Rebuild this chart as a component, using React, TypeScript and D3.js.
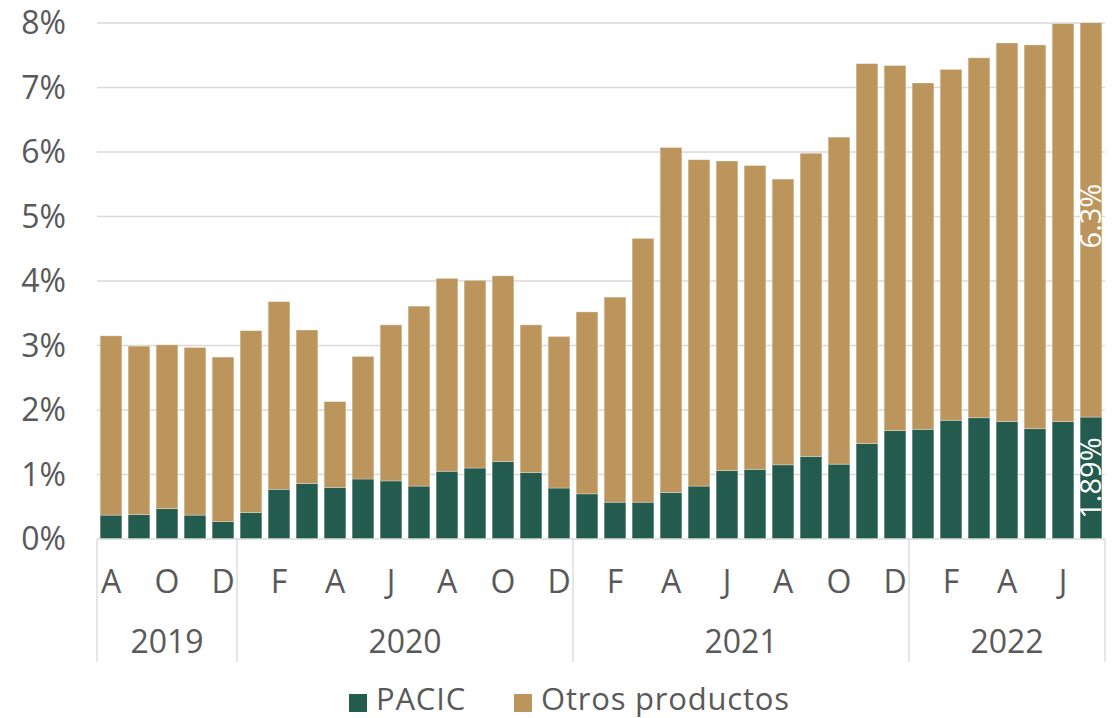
import React, { useEffect } from "react";
import * as d3 from "d3";

const years = ["2019", "2020", "2021", "2022"];
const monthsPerYear = [5, 12, 12, 7];
const monthLetters = [
  "A", "S", "O", "N", "D",
  "E", "F", "M", "A", "M", "J", "J", "A", "S", "O", "N", "D",
  "E", "F", "M", "A", "M", "J", "J", "A", "S", "O", "N", "D",
  "E", "F", "M", "A", "M", "J", "J",
];
const pacic = [
  0.37, 0.38, 0.47, 0.37, 0.27,
  0.41, 0.77, 0.86, 0.8, 0.93, 0.9, 0.82, 1.05, 1.1, 1.2, 1.03, 0.79,
  0.7, 0.57, 0.57, 0.72, 0.82, 1.06, 1.08, 1.15, 1.28, 1.16, 1.48, 1.68,
  1.7, 1.84, 1.88, 1.82, 1.71, 1.82, 1.89,
];
const otros = [
  2.78, 2.61, 2.54, 2.6, 2.55,
  2.82, 2.91, 2.38, 1.33, 1.9, 2.42, 2.79, 2.99, 2.91, 2.88, 2.29, 2.35,
  2.82, 3.18, 4.09, 5.35, 5.06, 4.8, 4.71, 4.43, 4.7, 5.07, 5.89, 5.66,
  5.37, 5.44, 5.58, 5.87, 5.95, 6.17, 6.3,
];
const yTicks = [0, 1, 2, 3, 4, 5, 6, 7, 8];
const seriesNames = ["PACIC", "Otros productos"];
const lastLabels = ["1.89%", "6.3%"];

const W = 1115;
const H = 718;
const L = 97;
const R = 1105;
const T = 23;
const B = 539;
const colors = ["#235B4E", "#BC955C"];
const textColor = "#595959";
const gridColor = "#d9d9d9";
const font = "'Open Sans', sans-serif";

export default function App() {
  useEffect(() => {
    document.body.style.margin = "0";
  }, []);

  const idx = pacic.map((_, i) => i);
  const x = d3.scaleBand<number>().domain(idx).range([L, R]).paddingInner(0.225).paddingOuter(0.1125);
  const y = d3.scaleLinear().domain([0, 8]).range([B, T]);

  const rows = idx.map((i) => ({ i, p: pacic[i], o: otros[i] }));
  const stacked = d3.stack<any>().keys(["p", "o"])(rows);

  const bounds: number[] = [0];
  monthsPerYear.forEach((n, k) => bounds.push(bounds[k] + n));
  const step = x.step();
  const sepX = bounds.map((b) => L + b * step);

  const lastI = idx.length - 1;
  const lastStack = stacked.map((s) => s[lastI]);

  return (
    <svg width={W} height={H} style={{ display: "block", background: "#fff" }} fontFamily={font}>
      <defs>
        <clipPath id="plot">
          <rect x={L} y={T} width={R - L} height={B - T} />
        </clipPath>
      </defs>
      {yTicks.map((t) => (
        <g key={t}>
          {t > 0 && <line x1={L} x2={R} y1={y(t)} y2={y(t)} stroke={gridColor} strokeWidth={1.3} />}
          <text x={66} y={y(t) + 11} textAnchor="end" fontSize={32} fill={textColor}>
            {t + "%"}
          </text>
        </g>
      ))}
      <g clipPath="url(#plot)">
        {stacked.map((s, k) => (
          <g key={k} fill={colors[k]}>
            {s.map((d: any, i: number) => (
              <rect
                key={i}
                x={x(i)}
                y={y(d[1])}
                width={x.bandwidth()}
                height={y(d[0]) - y(d[1])}
                stroke="#ffffff"
                strokeOpacity={0.35}
                strokeWidth={0.8}
              />
            ))}
          </g>
        ))}
      </g>
      {lastStack.map((d: any, k: number) => {
        const top = Math.min(d[1], 8);
        const cy = (y(d[0]) + y(top)) / 2 - (k === 1 ? 4 : 0);
        const cx = (x(lastI) as number) + x.bandwidth() / 2;
        return (
          <text
            key={k}
            transform={`translate(${cx},${cy}) rotate(-90)`}
            textAnchor="middle"
            dy="0.36em"
            fontSize={29}
            fill="#ffffff"
          >
            {lastLabels[k]}
          </text>
        );
      })}
      <line x1={L} x2={R} y1={B} y2={B} stroke={gridColor} strokeWidth={1.3} />
      {sepX.map((sx, k) => (
        <line key={k} x1={sx} x2={sx} y1={B} y2={662} stroke={gridColor} strokeWidth={1.3} />
      ))}
      {idx
        .filter((i) => i % 2 === 0)
        .map((i) => (
          <text
            key={i}
            x={(x(i) as number) + x.bandwidth() / 2}
            y={593}
            textAnchor="middle"
            fontSize={32}
            fill={textColor}
          >
            {monthLetters[i]}
          </text>
        ))}
      {years.map((yr, k) => (
        <text key={yr} x={(sepX[k] + sepX[k + 1]) / 2} y={653} textAnchor="middle" fontSize={32} fill={textColor}>
          {yr}
        </text>
      ))}
      <g>
        <rect x={349} y={694} width={18} height={18} fill={colors[0]} />
        <text x={376} y={710} fontSize={31} letterSpacing={0.8} fill={textColor}>
          {seriesNames[0]}
        </text>
        <rect x={514} y={694} width={18} height={18} fill={colors[1]} />
        <text x={541} y={710} fontSize={31} letterSpacing={0.8} fill={textColor}>
          {seriesNames[1]}
        </text>
      </g>
    </svg>
  );
}
